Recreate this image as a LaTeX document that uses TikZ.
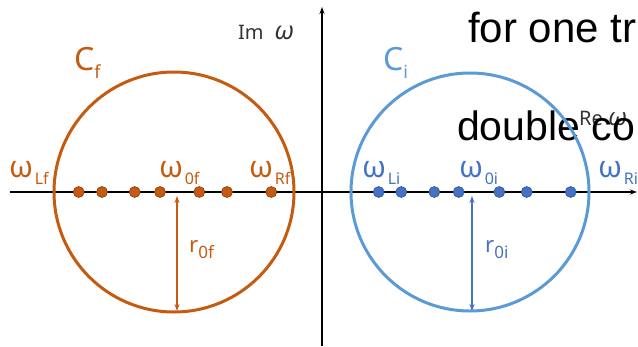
\documentclass[tikz,border=0pt]{standalone}
\usepackage{fontspec}
\setmainfont{Noto Sans}
\newfontfamily\arialf{Liberation Sans}
\usetikzlibrary{arrows.meta}
\definecolor{orng}{HTML}{C55A11}
\definecolor{orngd}{HTML}{843C0C}
\definecolor{blu}{HTML}{5B9BD5}
\definecolor{blud}{HTML}{4472C4}
\definecolor{bludd}{HTML}{2F528F}
\newcommand{\wlab}[1]{{\fontsize{30}{30}\selectfont ω}\,\raisebox{-7pt}{\fontsize{16}{16}\selectfont #1}}
\newcommand{\clab}[2]{{\fontsize{32}{32}\selectfont #1}\raisebox{-8pt}{\fontsize{18}{18}\selectfont #2}}
\newcommand{\rlab}[1]{{\fontsize{22}{22}\selectfont r}\raisebox{-6pt}{\fontsize{17}{17}\selectfont #1}}
\tikzset{
  axis/.style={line width=1.5pt, -{Stealth[length=7pt,width=5pt]}},
  circf/.style={draw=orng, line width=3pt},
  circi/.style={draw=blu, line width=3pt},
  dotf/.style={circle, fill=orng, draw=orngd, line width=0.6pt, minimum size=11pt, inner sep=0pt},
  doti/.style={circle, fill=blud, draw=bludd, line width=0.6pt, minimum size=11pt, inner sep=0pt},
  radf/.style={draw=orng, line width=1.5pt, {Stealth[length=7pt,width=5pt]}-{Stealth[length=7pt,width=5pt]}},
  radi/.style={draw=blud, line width=1.5pt, {Stealth[length=7pt,width=5pt]}-{Stealth[length=7pt,width=5pt]}},
  lab/.style={anchor=base west, inner sep=0pt},
  big/.style={anchor=base west, inner sep=0pt, font=\arialf\fontsize{42}{42}\selectfont},
}
\begin{document}
\begin{tikzpicture}[x=1pt,y=-1pt]
\useasboundingbox (0,0) rectangle (638,346);
\clip (0,0) rectangle (638,346);
% texts on top right
\node[big] (t1) at (468,42) {for one tr};
\node[lab, text=black!80, font=\fontsize{20}{20}\selectfont] (re) at (579,125) {Re {\fontsize{24}{24}\selectfont\textit{ω}}};
\node[big, font=\arialf\fontsize{41}{41}\selectfont] (t2) at (457,140) {double co};
% axes
\coordinate (xa) at (10,192);
\coordinate (xb) at (637,192);
\coordinate (ya) at (322,346);
\coordinate (yb) at (322,7);
\draw[axis] (xa) -- (xb);
\draw[axis] (ya) -- (yb);
\node[lab, text=black!80, font=\fontsize{20}{20}\selectfont] (im) at (238,39) {Im\; {\fontsize{25}{25}\selectfont\textit{ω}}};
% circles
\node[circle, circf, minimum size=240pt, inner sep=0pt] (cf) at (174,192) {};
\node[circle, circi, minimum size=238pt, inner sep=0pt] (ci) at (470,192) {};
% radius arrows
\coordinate (rfa) at (177,196);
\coordinate (rfb) at (177,311);
\coordinate (ria) at (472,196);
\coordinate (rib) at (472,311);
\draw[radf] (rfa) -- (rfb);
\draw[radi] (ria) -- (rib);
% dots
\foreach \x [count=\i] in {78.7,102,134.7,160,199.3,227,271.3} \node[dotf] (df\i) at (\x,192) {};
\foreach \x [count=\i] in {378.7,401.3,434.3,458.7,499.3,526.7,570.7} \node[doti] (di\i) at (\x,192) {};
% labels
\node[lab, text=orng] (lf) at (9,177) {\wlab{Lf}};
\node[lab, text=orng] (of) at (159,177) {\wlab{0f}};
\node[lab, text=orng] (rf) at (249,177) {\wlab{Rf}};
\node[lab, text=blud] (li) at (362,177) {\wlab{Li}};
\node[lab, text=blud] (oi) at (459,177) {\wlab{0i}};
\node[lab, text=blud] (ri) at (598,177) {\wlab{Ri}};
\node[lab, text=orng] (cfl) at (74,70) {\clab{C}{f}};
\node[lab, text=blu] (cil) at (383,70) {\clab{C}{i}};
\node[lab, text=orng] (r0f) at (189,252) {\rlab{0f}};
\node[lab, text=blud] (r0i) at (485,252) {\rlab{0i}};
\end{tikzpicture}
\end{document}
